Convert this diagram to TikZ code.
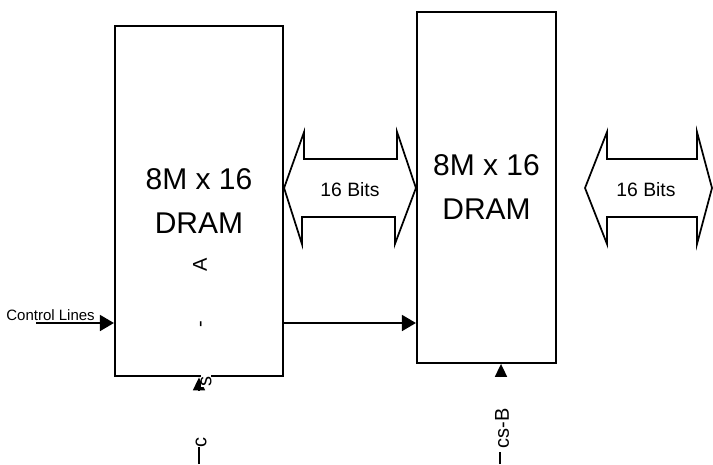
\documentclass[tikz,border=0pt]{standalone}
\usepackage{fontspec}
\setmainfont{Liberation Sans}
\usetikzlibrary{arrows.meta,positioning,calc}
\definecolor{ink}{HTML}{000000}
\tikzset{
  ramblock/.style={
    rectangle, draw=ink, line width=1.6pt, fill=white,
    minimum width=#1, minimum height=263pt,
    font=\fontsize{22.5}{33}\selectfont, align=center,
    inner sep=0pt
  },
  ramblock/.default=126pt,
  busarrow/.style={draw=ink, line width=1.3pt, line join=miter},
  buslabel/.style={font=\fontsize{14.5}{16}\selectfont, inner sep=0pt},
  sigline/.style={draw=ink, line width=1.3pt},
  sigarrow/.style={
    -{Triangle[length=10.5pt, width=12pt]}, sigline
  },
  selarrow/.style={
    -{Triangle[length=9.75pt, width=9pt]}, sigline
  },
  ctllabel/.style={font=\fontsize{11.25}{13}\selectfont, inner sep=0pt},
  sellabel/.style={rotate=90, font=\fontsize{15}{17}\selectfont,
    inner sep=0pt},
}

\begin{document}
\begin{tikzpicture}[x=0.75pt, y=-0.75pt]
\useasboundingbox (0,0) rectangle (713,464);
% the two memory chips
\node[ramblock=126pt] (ramA) at (199,201) {8M x 16\\DRAM};
\node[ramblock=104.25pt] (ramB) at (486.5,187.5) {8M x 16\\DRAM};

% data buses
\coordinate (busAB) at (350,188);
\draw[busarrow] (ramA.east |- busAB) -- ++(20,-56) -- ++(0,27) -- ++(93,0)
  -- ++(0,-27) -- (ramB.west |- busAB) -- ++(-21,56) -- ++(0,-27)
  -- ++(-93,0) -- ++(0,27) -- cycle;
\node[buslabel] (bitsAB) at (350,190) {16 Bits};
\coordinate (busout) at (712,188);
\draw[busarrow] (busout) -- ++(-15,-56) -- ++(0,27) -- ++(-90,0)
  -- ++(0,-27) -- ++(-22,56) -- ++(22,56) -- ++(0,-27) -- ++(90,0)
  -- ++(0,27) -- cycle;
\node[buslabel] (bitsout) at (646,190) {16 Bits};

% control lines
\coordinate (ctlin) at (36,323);
\draw[sigarrow] (ctlin) -- (ctlin -| ramA.west);
\node[ctllabel, anchor=base east] (ctllbl) at (95,320) {Control Lines};
\draw[sigarrow] (ramA.east |- ctlin) -- (ramB.west |- ctlin);

% chip select A
\coordinate (csAtail) at (199,390);
\coordinate (csAfoot) at (199,464);
\draw[selarrow] (csAtail) -- (ramA.south);
\node[sellabel, fill=white, inner xsep=0.8pt] (csAs) at (206,381) {s};
\node[sellabel] (csAc) at (201,442) {c};
\node[sellabel] (csAdash) at (203,324) {-};
\node[sellabel] (csAa) at (200,265) {A};
\draw[sigline] (csAfoot) -- (csAfoot |- csAc.west);

% chip select B
\coordinate (csBtail) at (501,377);
\coordinate (csBfoot) at (500,464);
\draw[selarrow] (csBtail) -- (csBtail |- ramB.south);
\node[sellabel, inner xsep=3pt] (csB) at (502,428) {cs-B};
\draw[sigline] (csBfoot) -- (csBfoot |- csB.west);
\end{tikzpicture}
\end{document}
